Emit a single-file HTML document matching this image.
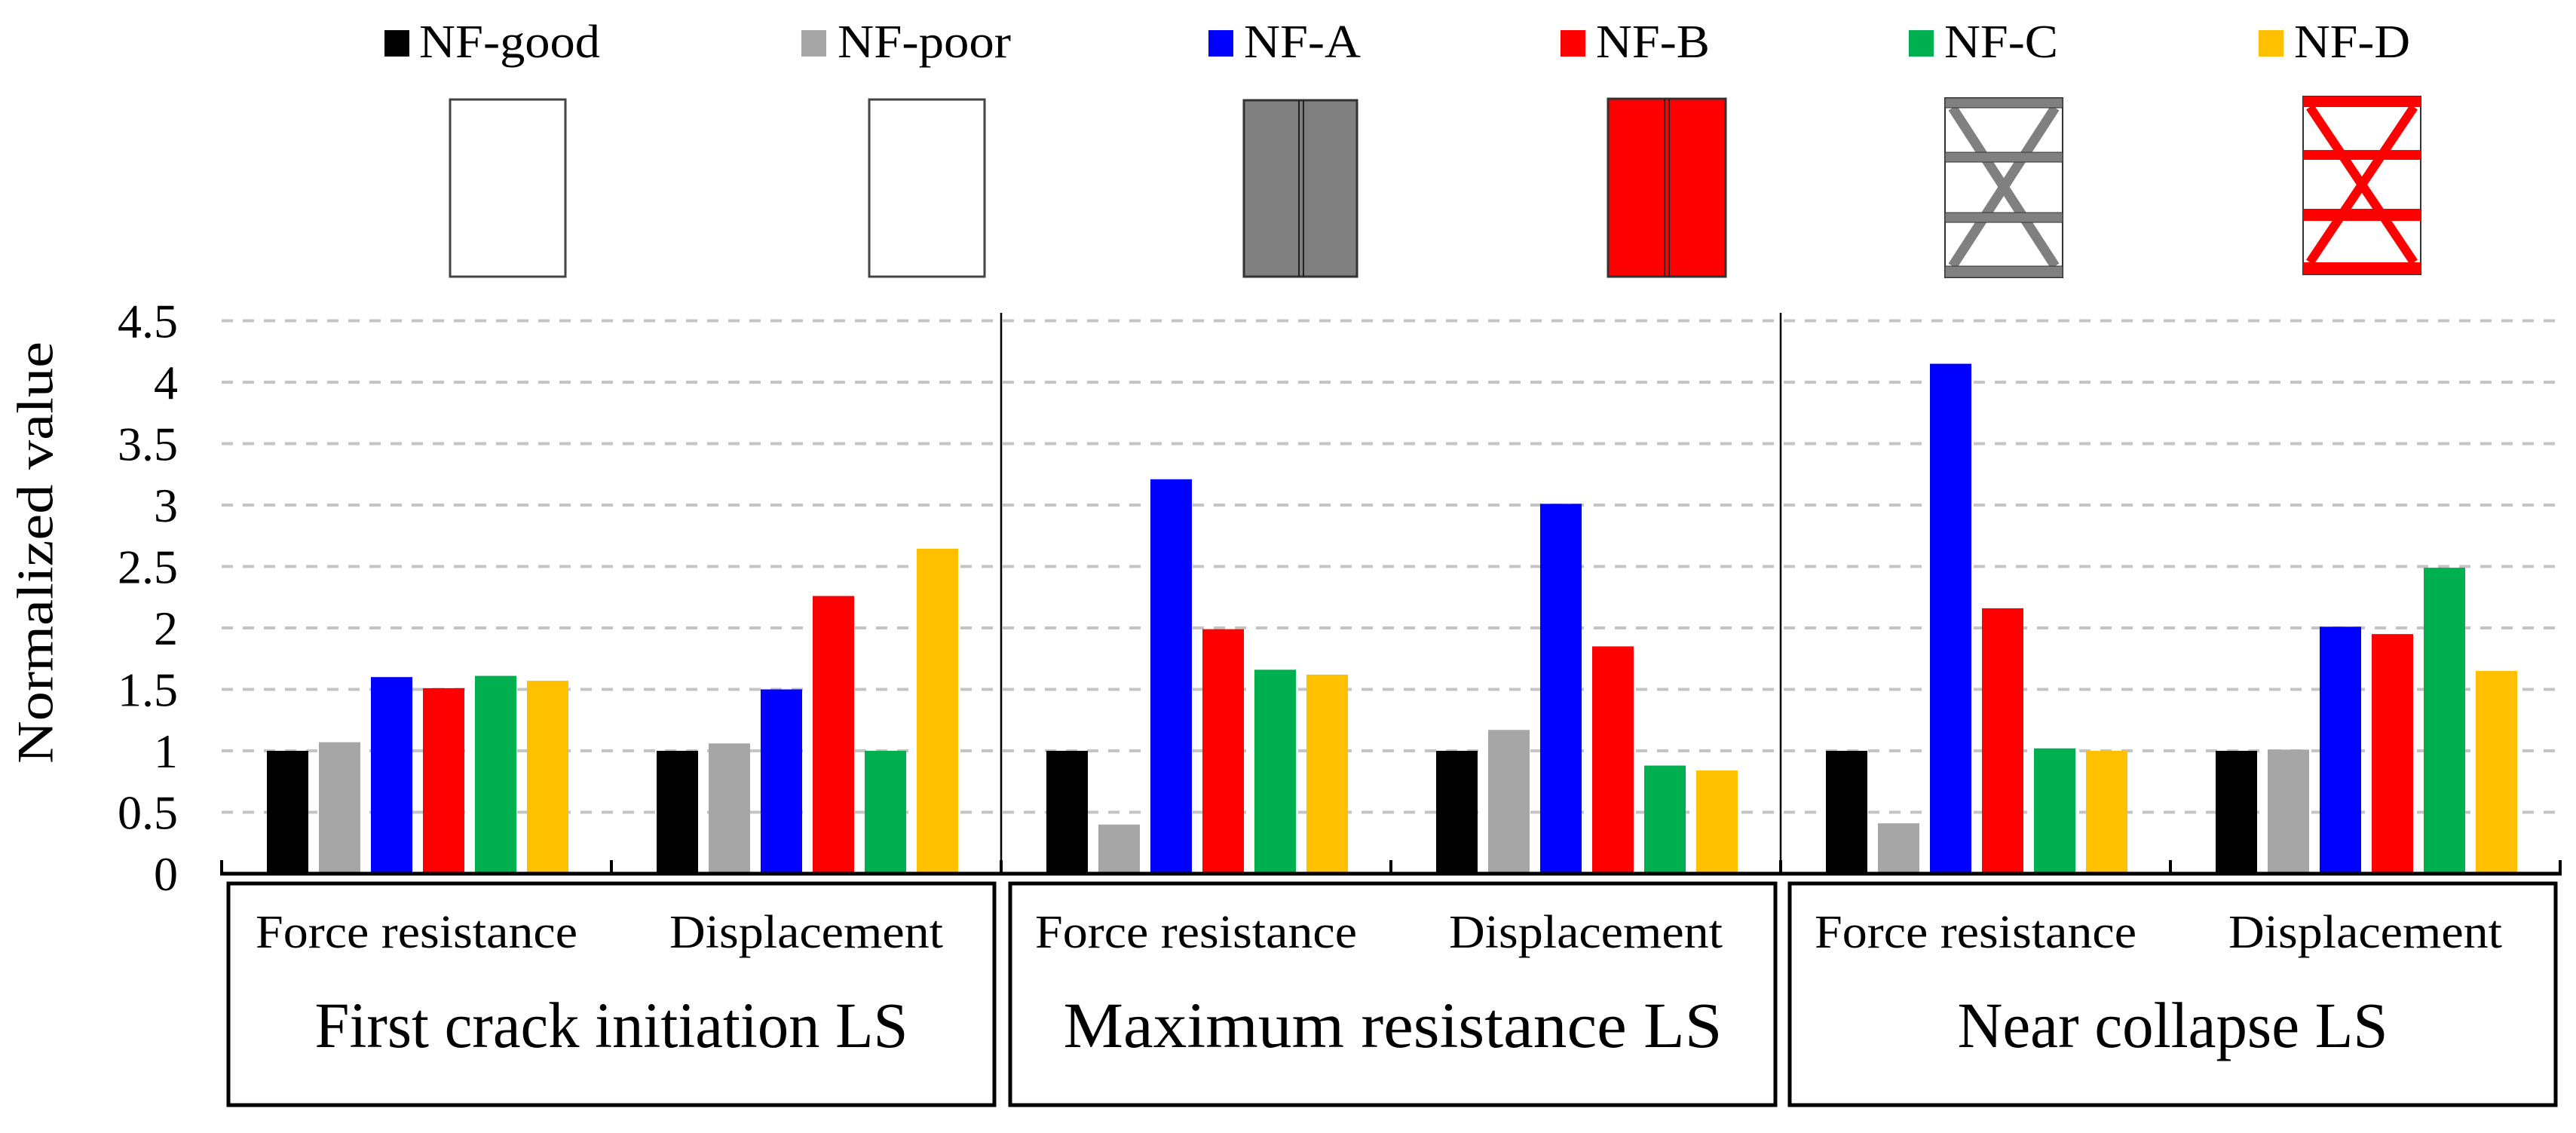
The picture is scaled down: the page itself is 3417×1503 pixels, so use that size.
<!DOCTYPE html>
<html><head><meta charset="utf-8"><style>
html,body{margin:0;padding:0;background:#fff;}
svg{display:block;font-family:"Liberation Serif",serif;}
</style></head><body>
<svg id="chart" width="3417" height="1503" viewBox="0 0 3417 1503" xmlns="http://www.w3.org/2000/svg">
<g id="icons">
  <rect x="597" y="132" width="153" height="235" fill="#fff" stroke="#444" stroke-width="3"/>
  <rect x="1153" y="132" width="153" height="235" fill="#fff" stroke="#444" stroke-width="3"/>
  <g>
    <rect x="1650" y="133" width="150" height="234" fill="#808080" stroke="#333" stroke-width="3"/>
    <line x1="1723" y1="133" x2="1723" y2="367" stroke="#222" stroke-width="2"/>
    <line x1="1729" y1="133" x2="1729" y2="367" stroke="#222" stroke-width="2"/>
  </g>
  <g>
    <rect x="2133" y="131" width="156" height="236" fill="#ff0000" stroke="#333" stroke-width="3"/>
    <line x1="2208" y1="131" x2="2208" y2="367" stroke="#222" stroke-width="2"/>
    <line x1="2214" y1="131" x2="2214" y2="367" stroke="#222" stroke-width="2"/>
  </g>
  <g>
    <rect x="2580" y="130" width="156" height="238" fill="#fff" stroke="#333" stroke-width="2"/>
    <line x1="2590" y1="143" x2="2726" y2="353" stroke="#808080" stroke-width="13"/>
    <line x1="2726" y1="143" x2="2590" y2="353" stroke="#808080" stroke-width="13"/>
    <rect x="2580" y="130" width="156" height="13" fill="#808080" stroke="#333" stroke-width="1"/>
    <rect x="2580" y="202" width="156" height="13" fill="#808080" stroke="#333" stroke-width="1"/>
    <rect x="2580" y="282" width="156" height="13" fill="#808080" stroke="#333" stroke-width="1"/>
    <rect x="2580" y="353" width="156" height="15" fill="#808080" stroke="#333" stroke-width="1"/>
  </g>
  <g>
    <rect x="3055" y="128" width="156" height="236" fill="#fff" stroke="#333" stroke-width="2"/>
    <line x1="3064" y1="142" x2="3202" y2="348" stroke="#ff0000" stroke-width="12"/>
    <line x1="3202" y1="142" x2="3064" y2="348" stroke="#ff0000" stroke-width="12"/>
    <rect x="3055" y="128" width="156" height="14" fill="#ff0000"/>
    <rect x="3055" y="199" width="156" height="13" fill="#ff0000"/>
    <rect x="3055" y="277" width="156" height="16" fill="#ff0000"/>
    <rect x="3055" y="348" width="156" height="16" fill="#ff0000"/>
  </g>
</g>
<g id="legend"></g>
<g id="grid"></g>
<g id="bars"></g>
<g id="axes"></g>
<text x="54" y="733" font-size="68" text-anchor="middle" textLength="560" lengthAdjust="spacingAndGlyphs" transform="rotate(-90 54 733)" dominant-baseline="middle">Normalized  value</text>
<g id="boxes"></g>
</svg>
<script>
const series = ["NF-good","NF-poor","NF-A","NF-B","NF-C","NF-D"];
const colors = ["#000000","#a6a6a6","#0000ff","#ff0000","#00b050","#ffc000"];
const categories = ["Force resistance","Displacement","Force resistance","Displacement","Force resistance","Displacement"];
const limitStates = ["First crack initiation LS","Maximum resistance LS","Near collapse LS"];
const nfGood = [1.0, 1.0, 1.0, 1.0, 1.0, 1.0];
const nfPoor = [1.07, 1.06, 0.40, 1.17, 0.41, 1.01];
const nfA = [1.60, 1.50, 3.21, 3.01, 4.15, 2.01];
const nfB = [1.51, 2.26, 1.99, 1.85, 2.16, 1.95];
const nfC = [1.61, 1.00, 1.66, 0.88, 1.02, 2.49];
const nfD = [1.57, 2.645, 1.62, 0.84, 1.00, 1.65];
const yTicks = ["0","0.5","1","1.5","2","2.5","3","3.5","4","4.5"];
const seriesValues = [nfGood, nfPoor, nfA, nfB, nfC, nfD];

const NS = "http://www.w3.org/2000/svg";
const X0 = 294, X1 = 3396, Y0 = 1159, PX_PER_UNIT = 163;
const catW = (X1 - X0) / categories.length;
function yScale(v){ return Y0 - v * PX_PER_UNIT; }
function xCat(i){ return X0 + i * catW; }
function mk(tag, attrs, parent){ const e = document.createElementNS(NS, tag); for (const k in attrs) e.setAttribute(k, attrs[k]); parent.appendChild(e); return e; }

const grid = document.getElementById('grid');
yTicks.forEach((t, i) => {
  const v = parseFloat(t);
  const y = yScale(v);
  if (v > 0) {
    const l = mk('line', {x1: X0, x2: X1, y1: y, y2: y, stroke: '#c4c4c4', 'stroke-width': 4, 'stroke-dasharray': '15 13'}, grid);
    
    
  }
  const tx = mk('text', {x: 236, y: y + 22, 'font-size': 64, 'text-anchor': 'end'}, grid);
  tx.textContent = t;
  
  
});

const bars = document.getElementById('bars');
const barW = 55, barStep = 69, barOff = 60;
categories.forEach((c, ci) => {
  seriesValues.forEach((vals, si) => {
    const v = vals[ci];
    const x = xCat(ci) + barOff + si * barStep;
    const r = mk('rect', {x: x, y: yScale(v), width: barW, height: Y0 - yScale(v), fill: colors[si]}, bars);
    
    
  });
});

const axes = document.getElementById('axes');
const ax = mk('line', {x1: X0 - 2, x2: X1 + 2, y1: Y0, y2: Y0, stroke: '#000', 'stroke-width': 5}, axes);


for (let i = 0; i <= categories.length; i++) {
  const x = xCat(i);
  const tk = mk('line', {x1: x, x2: x, y1: Y0, y2: Y0 - 18, stroke: '#000', 'stroke-width': 4}, axes);
  
  
}
[2, 4].forEach(i => {
  const x = xCat(i);
  const s = mk('line', {x1: x, x2: x, y1: 415, y2: Y0, stroke: '#000', 'stroke-width': 2.5}, axes);
  
  
});

const boxes = document.getElementById('boxes');
const boxX = [[303, 1319], [1340, 2355], [2374, 3390]];
const lsW = [787, 874, 571];
limitStates.forEach((ls, i) => {
  const [a, b] = boxX[i];
  const r = mk('rect', {x: a, y: 1172, width: b - a, height: 294, fill: 'none', stroke: '#000', 'stroke-width': 5}, boxes);
  
  
  const t = mk('text', {x: (a + b) / 2, y: 1389, 'font-size': 86, 'text-anchor': 'middle', textLength: lsW[i], lengthAdjust: 'spacingAndGlyphs'}, boxes);
  t.textContent = ls;
  
  
});
const subW = {"Force resistance": 427, "Displacement": 363};
categories.forEach((c, ci) => {
  const t = mk('text', {x: xCat(ci) + catW / 2, y: 1257, 'font-size': 62, 'text-anchor': 'middle', textLength: subW[c], lengthAdjust: 'spacingAndGlyphs'}, boxes);
  t.textContent = c;
  
  
});

const legend = document.getElementById('legend');
const legSq = [510, 1063, 1603, 2070, 2532, 2996];
const legTx = [556, 1111, 1650, 2117, 2579, 3043];
const legW = [240, 230, 155, 151, 151, 154];
series.forEach((s, i) => {
  const r = mk('rect', {x: legSq[i], y: 40, width: 33, height: 35, fill: colors[i]}, legend);
  
  
  const t = mk('text', {x: legTx[i], y: 76, 'font-size': 62, textLength: legW[i], lengthAdjust: 'spacingAndGlyphs'}, legend);
  t.textContent = s;
  
  
});
</script>
</body></html>
